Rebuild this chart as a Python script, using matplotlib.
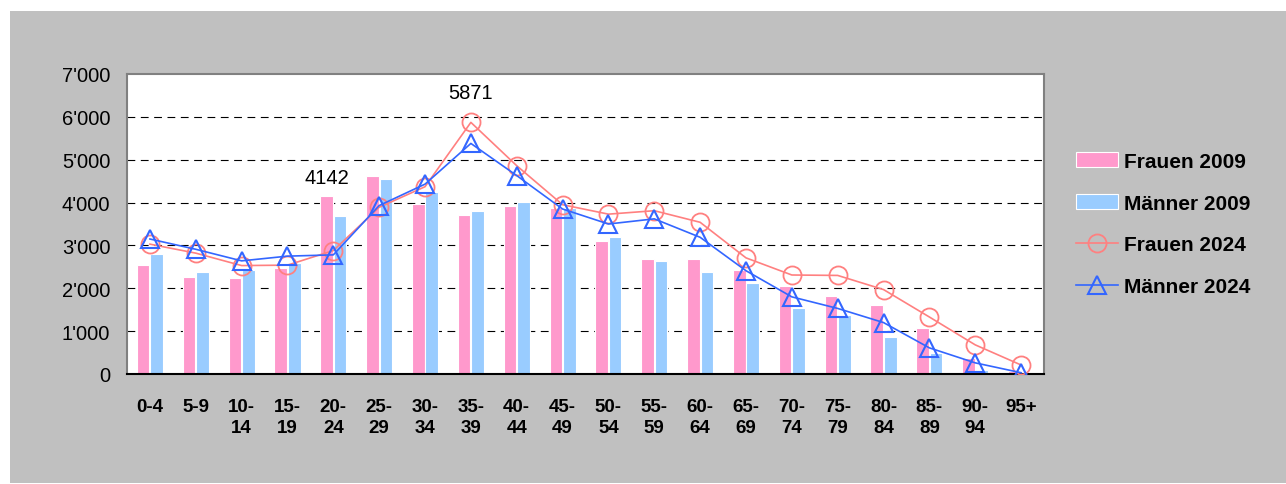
import matplotlib
matplotlib.use("Agg")
import matplotlib.pyplot as plt
import numpy as np
from matplotlib.patches import Rectangle
from matplotlib.ticker import FuncFormatter

plt.rcParams["font.family"] = ["Liberation Sans", "DejaVu Sans"]

# Age groups and population counts
age_groups = ["0-4", "5-9", "10-\n14", "15-\n19", "20-\n24", "25-\n29", "30-\n34",
              "35-\n39", "40-\n44", "45-\n49", "50-\n54", "55-\n59", "60-\n64",
              "65-\n69", "70-\n74", "75-\n79", "80-\n84", "85-\n89", "90-\n94", "95+"]
frauen_2009 = [2550, 2270, 2250, 2480, 4142, 4620, 3970, 3710, 3920, 3870,
               3110, 2690, 2680, 2430, 2060, 1820, 1600, 1075, 385, 70]
maenner_2009 = [2790, 2370, 2430, 2600, 3690, 4540, 4250, 3800, 4020, 3880,
                3200, 2640, 2370, 2130, 1530, 1370, 870, 480, 90, 15]
frauen_2024 = [3030, 2820, 2530, 2540, 2880, 3890, 4370, 5871, 4860, 3950,
               3730, 3810, 3540, 2710, 2310, 2300, 1970, 1330, 680, 210]
maenner_2024 = [3150, 2910, 2640, 2750, 2780, 3930, 4430, 5380, 4630, 3850,
                3500, 3620, 3190, 2410, 1800, 1530, 1200, 610, 260, 30]

fig = plt.figure(figsize=(12.86, 4.85), dpi=100)
fig.patch.set_facecolor("white")
# grey chart area with white margin top/left
fig.patches.append(Rectangle((10 / 1286, 1 / 485), 1, 1 - 13 / 485,
                             transform=fig.transFigure, facecolor="#c0c0c0",
                             edgecolor="none", zorder=-10))

ax = fig.add_axes([127 / 1286, 1 - 375 / 485, (1044 - 127) / 1286, 300 / 485])
ax.set_facecolor("white")

x = np.arange(len(age_groups))
w = 0.275
b1 = ax.bar(x - w / 2 - 0.01, frauen_2009, w, color="#ff99cc", edgecolor="white",
            linewidth=0.8, label="Frauen 2009", zorder=2)
b2 = ax.bar(x + w / 2 + 0.01, maenner_2009, w, color="#99ccff", edgecolor="white",
            linewidth=0.8, label="Männer 2009", zorder=2)
l1, = ax.plot(x, frauen_2024, color="#ff8080", linewidth=1.2, marker="o", markersize=13,
              markerfacecolor="none", markeredgecolor="#ff8080", markeredgewidth=1.3,
              label="Frauen 2024", zorder=3)
l2, = ax.plot(x, maenner_2024, color="#3366ff", linewidth=1.2, marker="^", markersize=13,
              markerfacecolor="none", markeredgecolor="#3366ff", markeredgewidth=1.5,
              label="Männer 2024", zorder=4)

# data labels
ax.annotate(str(frauen_2009[4]), (x[4] - w / 2, frauen_2009[4]), xytext=(0, 7),
            textcoords="offset points", ha="center", va="bottom", fontsize=14.5)
ax.annotate(str(frauen_2024[7]), (x[7], frauen_2024[7]), xytext=(0, 15),
            textcoords="offset points", ha="center", va="bottom", fontsize=14.5)

ax.set_xlim(-0.5, len(age_groups) - 0.5)
ax.set_ylim(0, 7000)
ax.set_yticks(range(0, 7001, 1000))
ax.yaxis.set_major_formatter(FuncFormatter(
    lambda v, p: "0" if v == 0 else f"{int(v) // 1000}'{int(v) % 1000:03d}"))
ax.set_xticks(x)
ax.set_xticklabels(age_groups, fontweight="bold", fontsize=13.5, linespacing=1.35,
                   va="top")
ax.tick_params(axis="x", length=0, pad=17)
ax.tick_params(axis="y", length=0, pad=12, labelsize=14.5)

for yv in range(1000, 7000, 1000):
    ax.axhline(yv, color="black", linewidth=0.8, linestyle=(0, (7, 5)), zorder=1)

for side in ["top", "right", "left"]:
    ax.spines[side].set_color("#808080")
    ax.spines[side].set_linewidth(1.5)
ax.spines["bottom"].set_color("black")
ax.spines["bottom"].set_linewidth(1.5)

fig.legend([b1, b2, l1, l2], ["Frauen 2009", "Männer 2009", "Frauen 2024", "Männer 2024"],
           loc="center left", bbox_to_anchor=(1066 / 1286, 1 - 225 / 485),
           frameon=False, prop={"weight": "bold", "size": 15},
           handlelength=2.0, handletextpad=0.3, labelspacing=1.1, borderpad=0.0)

fig.savefig("out.png", dpi=100, facecolor=fig.get_facecolor())
